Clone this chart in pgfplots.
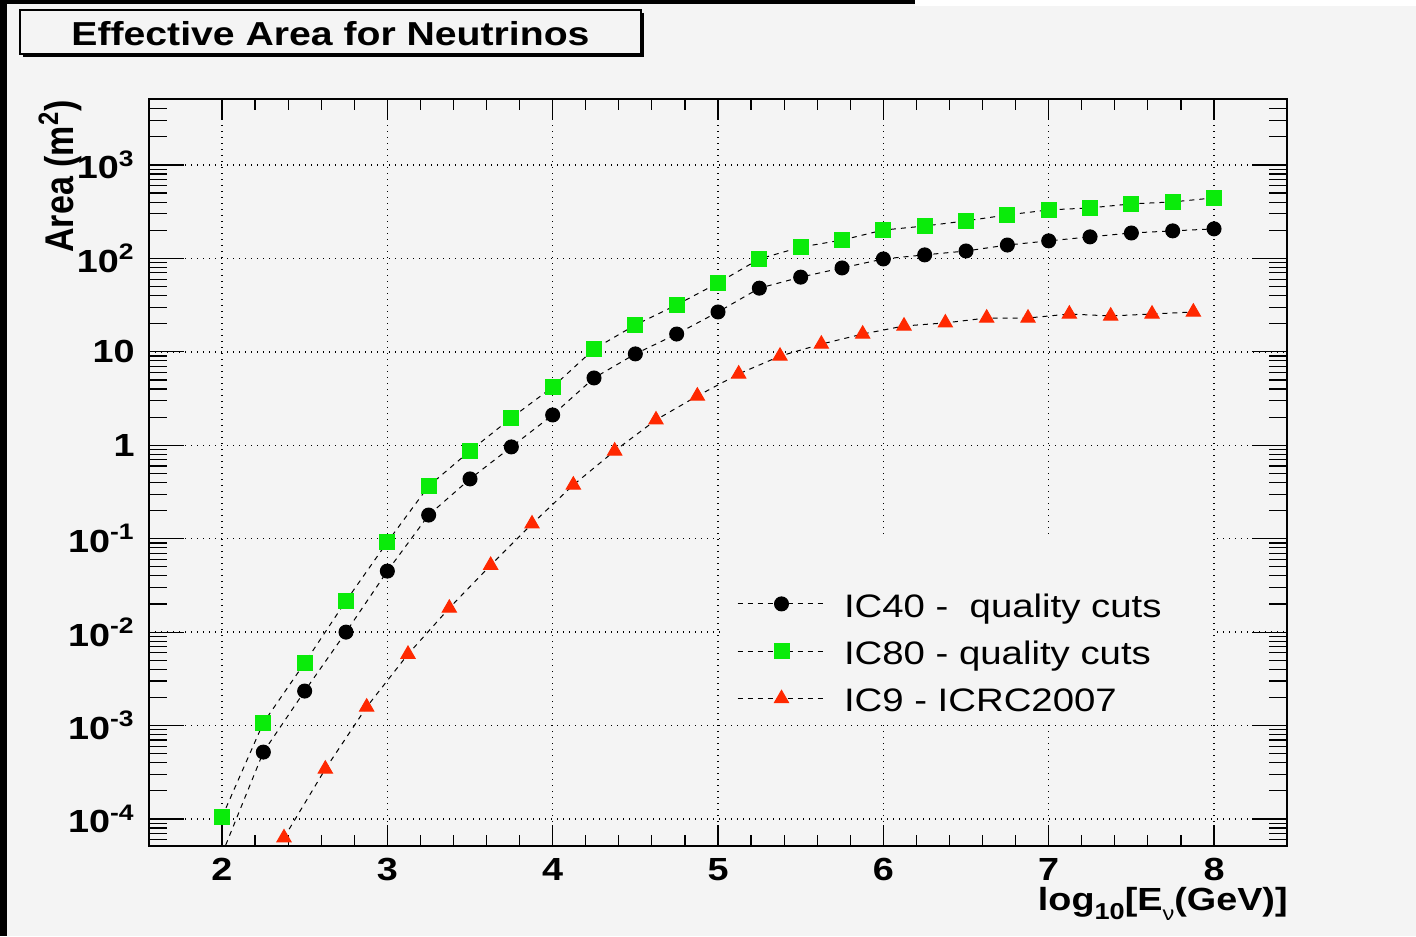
\documentclass[border=0pt]{standalone}
\usepackage{pgfplots}
\pgfplotsset{compat=1.18}
\usepackage{fontspec}
\setmainfont{Liberation Sans}[FakeStretch=1.18]
\newfontfamily\plainsans{Liberation Sans}
\definecolor{bgcol}{RGB}{244,244,244}
\definecolor{rootgreen}{RGB}{10,235,10}
\definecolor{rootred}{RGB}{255,40,0}
\newcommand{\tl}[1]{10\textsuperscript{#1}}
\begin{document}
\begin{tikzpicture}
\useasboundingbox (0,0) rectangle (708pt,468pt);
\fill[bgcol] (0,0) rectangle (708pt,468pt);
\fill[black] (0,0) rectangle (3.5pt,468pt);
\fill[black] (0,466pt) rectangle (457.5pt,468pt);
\fill[white] (457.5pt,465pt) rectangle (708pt,468pt);
% title box
\fill[black] (11.5pt,439.5pt) rectangle (322pt,461.5pt);
\filldraw[fill=bgcol, draw=black, line width=0.6pt] (10pt,441pt) rectangle (320.5pt,463pt);
\node[anchor=base, inner sep=0pt, font=\bfseries\fontsize{16.6}{16.6}\selectfont] at (165.25pt,445pt) {Effective Area for Neutrinos};
\begin{axis}[
  at={(74.5pt,45pt)}, anchor=south west,
  scale only axis, width=569pt, height=373.5pt,
  ymode=log,
  xmin=1.5585, xmax=8.4415, ymin=5.14e-5, ymax=5080,
  xtick={2,3,4,5,6,7,8},
  xticklabels={2,3,4,5,6,7,8},
  minor x tick num=4,
  ytick={1e-4,1e-3,1e-2,1e-1,1,10,100,1000},
  yticklabels={\tl{-4},\tl{-3},\tl{-2},\tl{-1},1,10,\tl{2},\tl{3}},
  minor ytick={6e-5,7e-5,8e-5,9e-5,2e-4,3e-4,4e-4,5e-4,6e-4,7e-4,8e-4,9e-4,2e-3,3e-3,4e-3,5e-3,6e-3,7e-3,8e-3,9e-3,2e-2,3e-2,4e-2,5e-2,6e-2,7e-2,8e-2,9e-2,0.2,0.3,0.4,0.5,0.6,0.7,0.8,0.9,2,3,4,5,6,7,8,9,20,30,40,50,60,70,80,90,200,300,400,500,600,700,800,900,2000,3000,4000,5000},
  tick align=inside,
  xtick style={black, line width=0.6pt, /pgfplots/major tick length=10.5pt, /pgfplots/minor tick length=5.5pt},
  ytick style={black, line width=0.6pt, /pgfplots/major tick length=17.5pt, /pgfplots/minor tick length=9pt},
  xticklabel style={font=\bfseries\fontsize{16}{16}\selectfont, inner sep=0pt, yshift=-6pt},
  yticklabel style={font=\bfseries\fontsize{16}{16}\selectfont, inner sep=0pt, xshift=-7pt},
  grid=major,
  major grid style={black, line width=0.7pt, dash pattern=on 0.7pt off 2.3pt},
  axis line style={black, line width=1pt},
  legend cell align=left,
  legend style={at={(rel axis cs:0.5167,0.257)}, anchor=west, draw=none, fill=none,
     inner sep=0pt, outer sep=0pt, column sep=9pt, row sep=10.5pt,
     font=\fontsize{16.25}{16.25}\selectfont, nodes={inner sep=0pt}},
  legend image code/.code={\draw[mark repeat=2,mark phase=2] plot coordinates {(0pt,1.5pt) (22pt,1.5pt) (44pt,1.5pt)};},
]
\fill[bgcol] (rel axis cs:0.5018,0.166) rectangle (rel axis cs:0.935,0.4163);
\addplot[black, line width=0.5pt, dash pattern=on 2.5pt off 2.5pt, mark=*, mark size=3.5pt, mark options={solid, fill=black, draw=black}] coordinates {
(2,4.2e-5) (2.25,5.2e-4) (2.5,2.34e-3) (2.75,1.0e-2) (3,4.5e-2) (3.25,0.179) (3.5,0.436) (3.75,0.96) (4,2.11) (4.25,5.25) (4.5,9.5) (4.75,15.5) (5,26.7) (5.25,48) (5.5,63) (5.75,79) (6,98.6) (6.25,109) (6.5,120) (6.75,139) (7,154) (7.25,170) (7.5,187) (7.75,197) (8,207)
};
\addlegendentry{IC40 -\ \ quality cuts}
\addplot[black, line width=0.5pt, dash pattern=on 2.5pt off 2.5pt, mark=square*, mark size=3.75pt, mark options={solid, fill=rootgreen, draw=rootgreen}] coordinates {
(2,1.05e-4) (2.25,1.07e-3) (2.5,4.68e-3) (2.75,0.0216) (3,0.092) (3.25,0.366) (3.5,0.87) (3.75,1.96) (4,4.2) (4.25,10.7) (4.5,19.4) (4.75,31.8) (5,54.6) (5.25,98.6) (5.5,132) (5.75,157) (6,201) (6.25,222) (6.5,252) (6.75,292) (7,330) (7.25,347) (7.5,383) (7.75,402) (8,444)
};
\addlegendentry{IC80 - quality cuts}
\addplot[black, line width=0.5pt, dash pattern=on 2.5pt off 2.5pt, mark=triangle*, mark size=4.1pt, mark options={solid, fill=rootred, draw=rootred}] coordinates {
(2.375,6.3e-5) (2.625,3.43e-4) (2.875,1.58e-3) (3.125,5.8e-3) (3.375,0.0181) (3.625,0.052) (3.875,0.144) (4.125,0.376) (4.375,0.87) (4.625,1.87) (4.875,3.37) (5.125,5.8) (5.375,9.0) (5.625,12.1) (5.875,15.5) (6.125,18.9) (6.375,20.4) (6.625,23.0) (6.875,23.0) (7.125,25.4) (7.375,24.2) (7.625,25.4) (7.875,26.7)
};
\addlegendentry{IC9 - ICRC2007\vphantom{qy}}
\end{axis}
\node[anchor=base east, inner sep=0pt, font=\bfseries\fontsize{16}{16}\selectfont] at (644pt,13pt) {log\raisebox{-0.55ex}{\fontsize{11.5}{11.5}\selectfont 10}[E\raisebox{-0.6ex}{\mdseries\fontsize{10}{10}\selectfont ν}(GeV)]};
\node[rotate=90, anchor=base east, inner sep=0pt] at (36.5pt,418pt) {\scalebox{1}[1.18]{\plainsans\bfseries\fontsize{17}{17}\selectfont Area (m\textsuperscript{2})}};
\end{tikzpicture}
\end{document}
